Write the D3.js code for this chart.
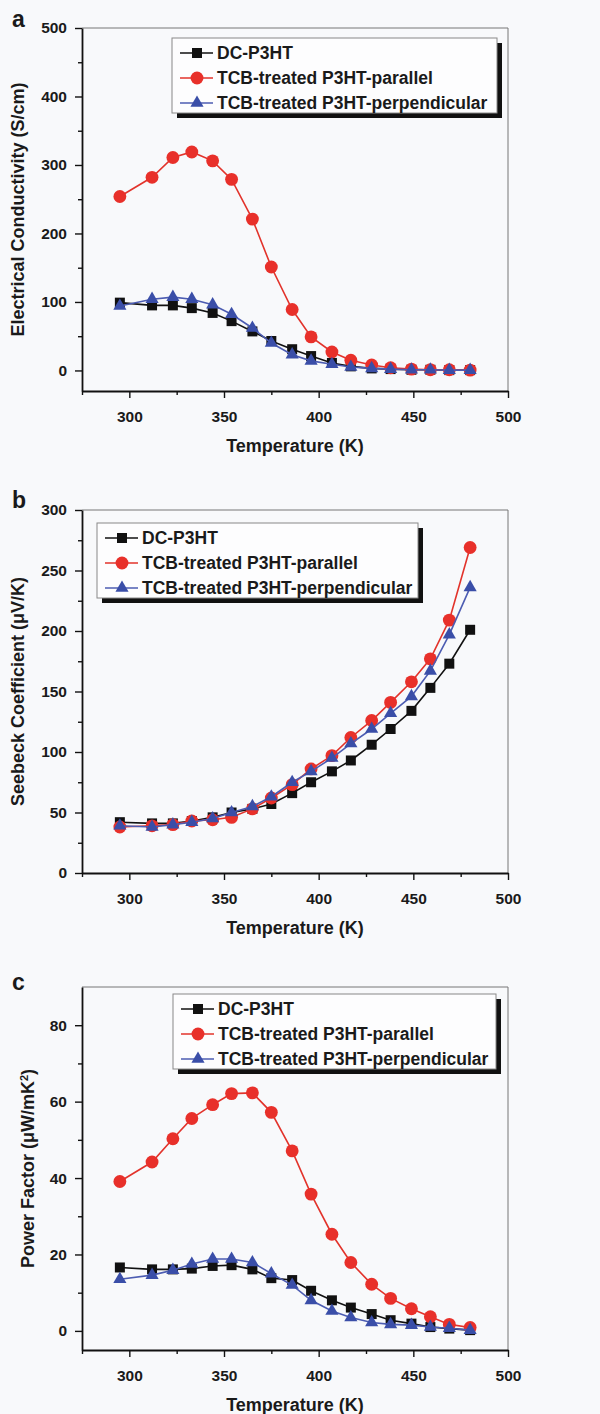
<!DOCTYPE html>
<html>
<head>
<meta charset="utf-8">
<script src="https://d3js.org/d3.v7.min.js"></script>
<style>
  body { margin: 0; background: #f8f9fb; }
  svg text { font-family: "Liberation Sans", Arial, sans-serif; font-weight: bold; fill: #1a1a1a; }
</style>
</head>
<body>
<div id="chart"></div>
<script>

// temperatures (K), shared by all three panels
var temps = [295, 312, 323, 333, 344, 354, 365, 375, 386, 396, 407, 417, 428, 438, 449, 459, 469, 480];

// panel a: electrical conductivity (S/cm)
var condDC   = [99, 95, 95, 91, 84, 72, 57, 43, 31, 21, 11, 6, 3, 2, 1, 1, 0.5, 0.5];
var condPar  = [254, 282, 311, 319, 306, 279, 221, 151, 89, 49, 27, 15, 8, 4, 2, 1, 1, 0.5];
var condPerp = [94, 104, 107, 104, 96, 82, 62, 40, 23, 14, 9, 5, 3, 2, 1, 1, 0.5, 0.5];

// panel b: seebeck coefficient (uV/K)
var seeDC   = [42, 41, 41, 43, 46, 50, 53, 57, 66, 75, 84, 93, 106, 119, 134, 153, 173, 201];
var seePar  = [38, 39, 40, 43, 44, 46, 53, 62, 73, 86, 97, 112, 126, 141, 158, 177, 209, 269];
var seePerp = [39, 38, 40, 42, 45, 50, 55, 63, 75, 84, 95, 107, 119, 132, 146, 167, 197, 236];

// panel c: power factor (uW/mK^2)
var pfDC   = [16.6, 16.1, 16.1, 16.3, 17.0, 17.2, 16.1, 13.8, 13.3, 10.5, 8.0, 6.1, 4.4, 2.8, 1.9, 1.0, 0.6, 0.2];
var pfPar  = [39.1, 44.2, 50.3, 55.6, 59.2, 62.1, 62.3, 57.2, 47.1, 35.8, 25.3, 17.9, 12.2, 8.5, 5.8, 3.7, 1.7, 0.9];
var pfPerp = [13.5, 14.6, 15.9, 17.5, 18.8, 18.8, 17.9, 15.0, 12.0, 8.0, 5.2, 3.5, 2.2, 1.7, 1.5, 1.0, 0.7, 0.2];

var seriesNames = ["DC-P3HT", "TCB-treated P3HT-parallel", "TCB-treated P3HT-perpendicular"];
var xMajor = [300, 350, 400, 450, 500];
var xMinor = [275, 325, 375, 425, 475];

var styles = [
  {line: "#111", fill: "#111", sym: d3.symbolSquare, size: 100},
  {line: "#e2332b", fill: "#e8302a", sym: d3.symbolCircle, size: 130},
  {line: "#4c5cb2", fill: "#3a4ea8", sym: d3.symbolTriangle, size: 75}
];

var svg = d3.select("#chart").append("svg")
    .attr("width", 600)
    .attr("height", 1414);

var panels = [
  {letter: "a", letterY: 27, top: 28, yDom: [-30, 500], yMajor: [0, 100, 200, 300, 400, 500], yMinor: [50, 150, 250, 350, 450],
   data: [condDC, condPar, condPerp], titleX: 18, title: ["Electrical Conductivity (S/cm)"],
   legend: {x: 172, y: 38, w: 325}},
  {letter: "b", letterY: 508, top: 510, yDom: [0, 300], yMajor: [0, 50, 100, 150, 200, 250, 300], yMinor: [25, 75, 125, 175, 225, 275],
   data: [seeDC, seePar, seePerp], titleX: 18, title: ["Seebeck Coefficient (\u03BCV/K)"],
   legend: {x: 97, y: 523, w: 321}},
  {letter: "c", letterY: 990, top: 987, yDom: [-5, 90], yMajor: [0, 20, 40, 60, 80], yMinor: [10, 30, 50, 70],
   data: [pfDC, pfPar, pfPerp], titleX: 28, title: ["Power Factor (\u03BCW/mK", "2", ")"],
   legend: {x: 173, y: 994, w: 323}}
];

var left = 82, right = 508, h = 363;

panels.forEach(function(p) {
  var g = svg.append("g").attr("transform", "translate(0," + p.top + ")");
  var x = d3.scaleLinear().domain([275, 500]).range([left, right]);
  var y = d3.scaleLinear().domain(p.yDom).range([h, 0]);

  // frame top / right
  g.append("path")
    .attr("d", "M" + left + ",0H" + right + "V" + h)
    .attr("fill", "none").attr("stroke", "#777").attr("stroke-width", 1);

  // x axis
  g.append("g").attr("transform", "translate(0," + h + ")")
    .call(d3.axisBottom(x).tickValues(xMajor).tickSizeInner(7).tickSizeOuter(0).tickPadding(13));
  g.append("g").attr("transform", "translate(0," + h + ")")
    .call(d3.axisBottom(x).tickValues(xMinor).tickSize(4).tickFormat(""))
    .select(".domain").remove();

  // y axis
  g.append("g").attr("transform", "translate(" + left + ",0)")
    .call(d3.axisLeft(y).tickValues(p.yMajor).tickSizeInner(7).tickSizeOuter(0).tickPadding(8));
  g.append("g").attr("transform", "translate(" + left + ",0)")
    .call(d3.axisLeft(y).tickValues(p.yMinor).tickSize(4).tickFormat(""))
    .select(".domain").remove();

  g.selectAll(".domain").attr("stroke", "#111").attr("stroke-width", 1.8);
  g.selectAll(".tick line").attr("stroke", "#111").attr("stroke-width", 1.4);
  g.selectAll(".tick text").attr("font-size", 15.5).attr("fill", "#1a1a1a")
    .attr("font-family", "'Liberation Sans', Arial, sans-serif").attr("font-weight", "bold");

  // axis titles
  g.append("text")
    .attr("x", (left + right) / 2).attr("y", h + 61)
    .attr("text-anchor", "middle").attr("font-size", 18)
    .text("Temperature (K)");

  var yt = g.append("text")
    .attr("transform", "translate(" + p.titleX + "," + (h / 2) + ") rotate(-90)")
    .attr("text-anchor", "middle").attr("dy", "0.36em").attr("font-size", 18);
  yt.append("tspan").text(p.title[0]);
  if (p.title.length > 1) {
    yt.append("tspan").attr("font-size", 11).attr("baseline-shift", "super").text(p.title[1]);
    yt.append("tspan").text(p.title[2]);
  }

  // panel letter
  svg.append("text")
    .attr("x", 12).attr("y", p.letterY)
    .attr("font-size", 23).text(p.letter);

  // series
  var line = d3.line().x(function(d) { return x(d[0]); }).y(function(d) { return y(d[1]); });
  p.data.forEach(function(vals, i) {
    var pts = temps.map(function(t, k) { return [t, vals[k]]; });
    var st = styles[i];
    g.append("path").datum(pts)
      .attr("d", line).attr("fill", "none")
      .attr("stroke", st.line).attr("stroke-width", 1.6);
    g.selectAll(".pt" + i).data(pts).enter().append("path")
      .attr("transform", function(d) { return "translate(" + x(d[0]) + "," + y(d[1]) + ")"; })
      .attr("d", d3.symbol().type(st.sym).size(st.size))
      .attr("fill", st.fill);
  });

  // legend
  var L = p.legend, lh = 75;
  var lg = svg.append("g").attr("transform", "translate(" + L.x + "," + L.y + ")");
  lg.append("rect").attr("x", 5).attr("y", 5).attr("width", L.w).attr("height", lh).attr("fill", "#111");
  lg.append("rect").attr("width", L.w).attr("height", lh).attr("fill", "#fdfdfe")
    .attr("stroke", "#888").attr("stroke-width", 1);
  seriesNames.forEach(function(name, i) {
    var st = styles[i], ry = 15 + i * 25;
    lg.append("line").attr("x1", 8).attr("x2", 41).attr("y1", ry).attr("y2", ry)
      .attr("stroke", st.line).attr("stroke-width", 1.6);
    lg.append("path").attr("transform", "translate(25," + ry + ")")
      .attr("d", d3.symbol().type(st.sym).size(st.size)).attr("fill", st.fill);
    lg.append("text").attr("x", 45).attr("y", ry).attr("dy", "0.36em")
      .attr("font-size", 17.5).text(name);
  });
});
</script>
</body>
</html>
